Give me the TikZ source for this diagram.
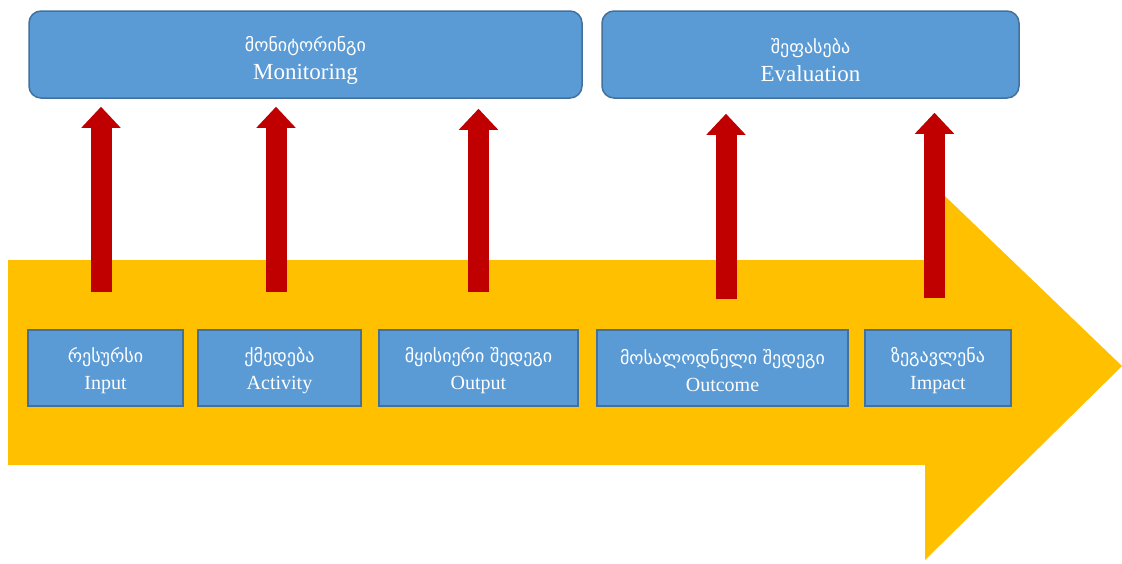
\documentclass[tikz,border=0pt]{standalone}
\usepackage{fontspec}
\setmainfont{Liberation Serif}
\newfontfamily\geofont{DejaVu Sans}
\usetikzlibrary{arrows.meta}
\definecolor{boxblue}{HTML}{5B9BD5}
\definecolor{boxline}{HTML}{41719C}
\definecolor{flowyellow}{HTML}{FFC000}
\definecolor{arrowred}{HTML}{C00000}
\newcommand{\geo}[1]{{\geofont\fontsize{18}{27}\selectfont #1}}

\begin{document}
\begin{tikzpicture}[x=1pt,y=-1pt,
  topbox/.style={draw=boxline,line width=1.5pt,fill=boxblue,rounded corners=12pt,
    text=white,align=center,minimum height=87pt,inner sep=0pt,text height=54pt,
    font=\fontsize{23}{28}\selectfont},
  stagebox/.style={draw=boxline,line width=1.5pt,fill=boxblue,
    text=white,align=center,minimum height=76pt,inner sep=0pt,text height=47pt,
    font=\fontsize{20}{27}\selectfont},
  uparrow/.style={draw=arrowred,line width=21pt,-{Triangle[width=38pt,length=21pt]}}]
\useasboundingbox (0,0) rectangle (1122,563);
\fill [white] (0,0) rectangle (1122,563);
% big flow arrow
\fill [flowyellow] (8,260) -- (925,260) -- (925,177) -- (1122,366)
  -- (925,560) -- (925,465) -- (8,465) -- cycle;
% monitoring / evaluation
\node [topbox,minimum width=553pt] (mon) at (305.5,54.5) {\geo{მონიტორინგი}\\Monitoring};
\node [topbox,minimum width=417pt] (eval) at (810.5,54.5) {\geo{შეფასება}\\Evaluation};
% stages
\node [stagebox,minimum width=155pt] (input) at (105.5,368) {\geo{რესურსი}\\Input};
\node [stagebox,minimum width=163pt] (activity) at (279.5,368) {\geo{ქმედება}\\Activity};
\node [stagebox,minimum width=199pt] (output) at (478.5,368) {\geo{მყისიერი შედეგი}\\Output};
\node [stagebox,minimum width=251pt] (outcome) at (722.5,368) {\geo{მოსალოდნელი შედეგი}\\Outcome};
\node [stagebox,minimum width=146pt] (impact) at (938,368) {\geo{ზეგავლენა}\\Impact};
% red arrows
\draw [uparrow,shorten <=37pt,shorten >=8pt] ([xshift=-4.5pt]input.north) -- ([xshift=-4.5pt]input.north |- mon.south);
\draw [uparrow,shorten <=37pt,shorten >=8pt] ([xshift=-3.5pt]activity.north) -- ([xshift=-3.5pt]activity.north |- mon.south);
\draw [uparrow,shorten <=37pt,shorten >=10pt] (output.north) -- (output.north |- mon.south);
\draw [uparrow,shorten <=30pt,shorten >=15pt] ([xshift=3.5pt]outcome.north) -- ([xshift=3.5pt]outcome.north |- eval.south);
\draw [uparrow,shorten <=31pt,shorten >=14pt] ([xshift=-3.5pt]impact.north) -- ([xshift=-3.5pt]impact.north |- eval.south);
\end{tikzpicture}
\end{document}
